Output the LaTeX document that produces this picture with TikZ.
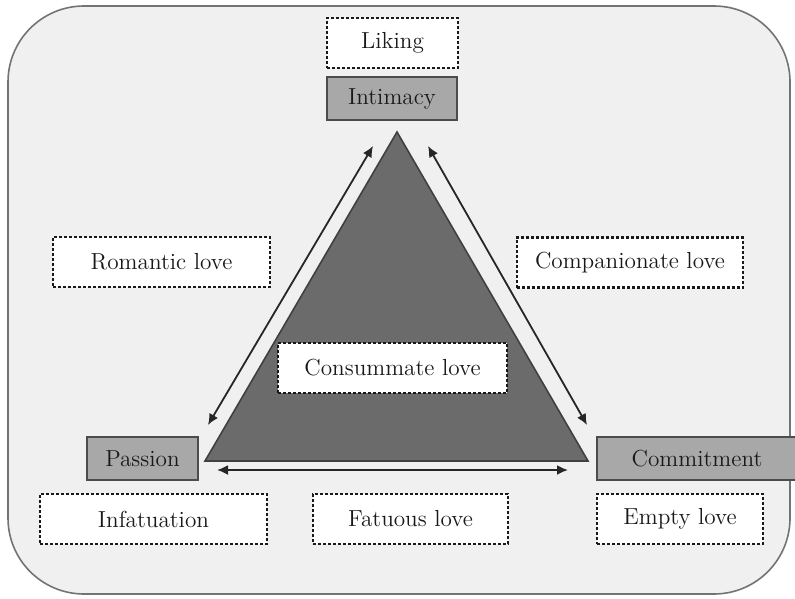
\documentclass[tikz,border=0pt]{standalone}
\usetikzlibrary{arrows.meta, positioning}
\newcommand{\lovefont}{\fontsize{11.6}{14}\selectfont}

\begin{document}
\begin{tikzpicture}[x=0.5pt, y=-0.5pt,
    stage/.style={draw=black!70, fill=black!34, line width=1pt, minimum height=21.5pt, inner sep=0pt, text=black!90, font=\lovefont},
    kind/.style={draw=black!90, fill=white, line width=1.4pt, dash pattern=on 1.3pt off 1.2pt, minimum height=25pt, inner sep=0pt, text=black!90, font=\lovefont},
    link/.style={line width=0.9pt, black!85, {Latex[length=5.5pt,width=5pt]}-{Latex[length=5.5pt,width=5pt]}}]
    \useasboundingbox (0,0) rectangle (795,598);
    % Panel behind everything
    \draw[black!55, fill=black!6, line width=0.8pt, rounded corners=38pt] (8,6) rectangle (790,594);
    % The triangle
    \coordinate (apex) at (397,132);
    \coordinate (lbase) at (205,461);
    \coordinate (rbase) at (588,461);
    \draw[black!75, fill=black!58, line width=0.8pt] (apex) -- (lbase) -- (rbase) -- cycle;
    % Components
    \node[stage, minimum width=65pt] (intimacy) at (392,98.5) {Intimacy};
    \node[stage, minimum width=55.5pt] (passion) at (142.5,458.5) {Passion};
    \node[stage, minimum width=100pt] (commitment) at (697,458.5) {Commitment};
    % Kinds of love
    \node[kind, minimum width=65.5pt] (liking) at (392.5,43) {Liking};
    \node[kind, minimum width=108.5pt] (romantic) at (161.5,262) {Romantic love};
    \node[kind, minimum width=113pt] (companionate) at (630,262.5) {Companionate love};
    \node[kind, minimum width=114.5pt] (consummate) at (392.5,368) {Consummate love};
    \node[kind, minimum width=113.5pt] (infatuation) at (153.5,519) {Infatuation};
    \node[kind, minimum width=97.5pt] (fatuous) at (410.5,519) {Fatuous love};
    \node[kind, minimum width=83pt] (empty) at (680,519) {Empty love};
    % Arrows along the sides
    \coordinate (ltop) at (373,146);
    \coordinate (lbot) at (208,425);
    \coordinate (rtop) at (428,146);
    \coordinate (rbot) at (587,425);
    \coordinate (bleft) at (217,470);
    \coordinate (bright) at (568,470);
    \draw[link] (ltop) -- (lbot);
    \draw[link] (rtop) -- (rbot);
    \draw[link] (bleft) -- (bright);
\end{tikzpicture}
\end{document}
